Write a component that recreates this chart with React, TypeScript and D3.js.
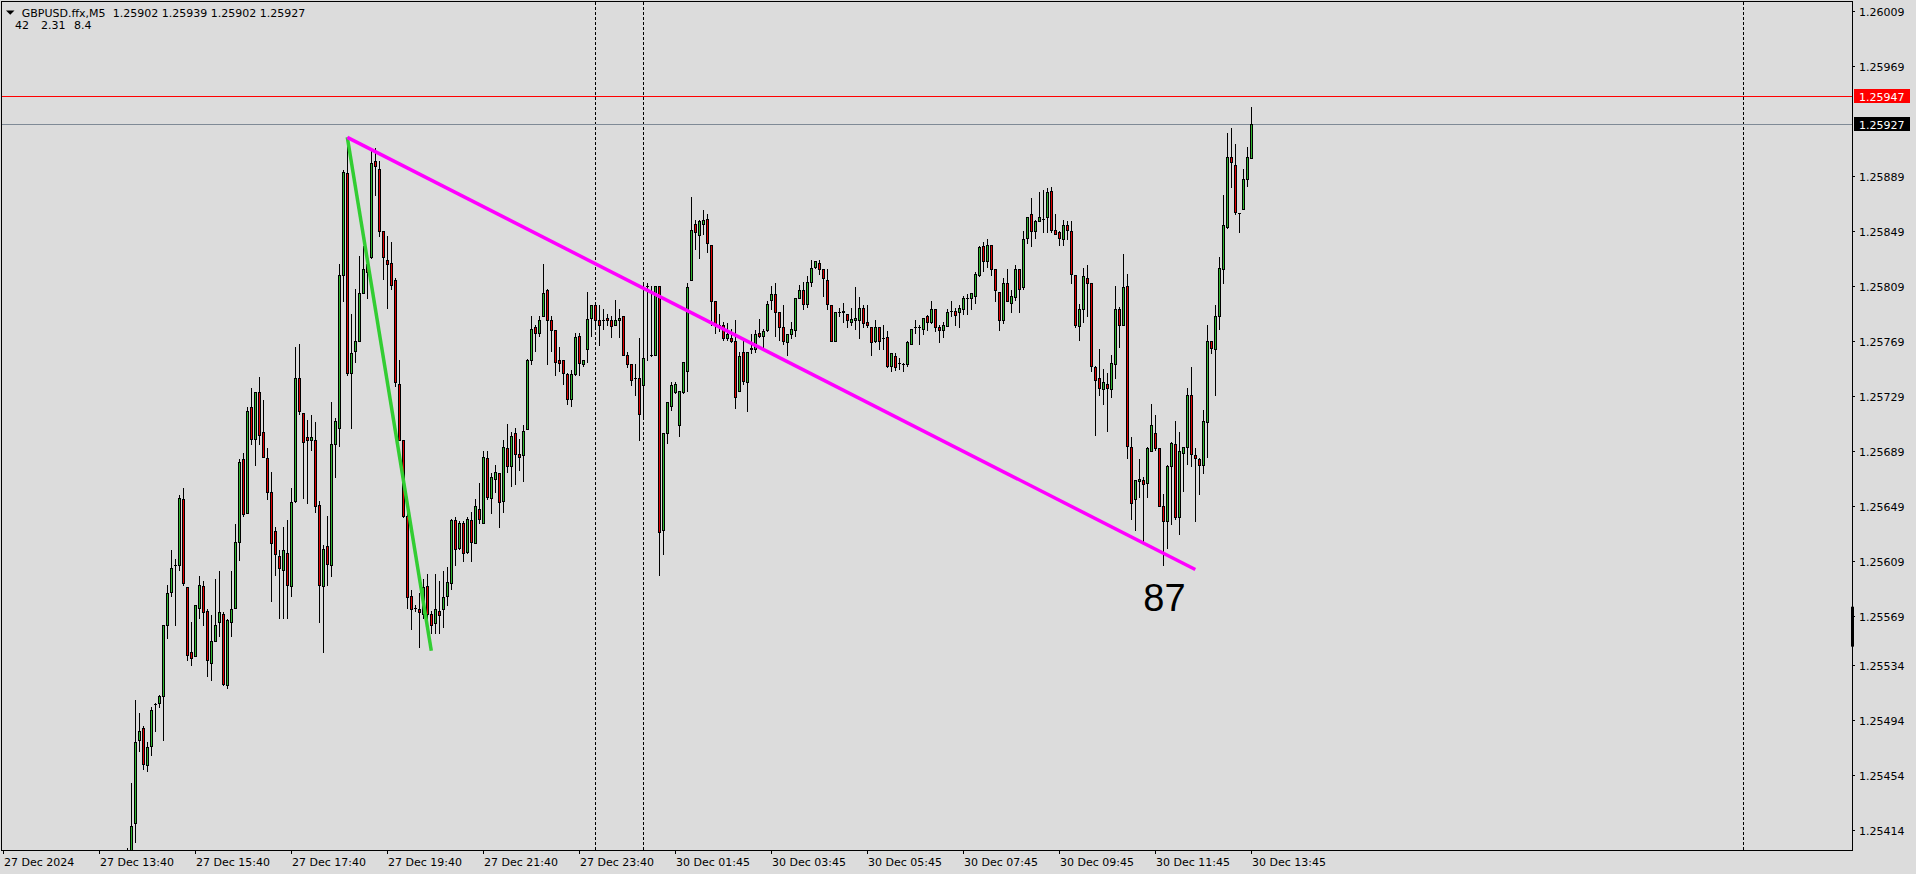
import * as d3 from "d3";
import { useEffect } from "react";

// GBPUSD.ffx M5, bars numbered 1..282 (27 Dec 14:15 -> 30 Dec 13:45)
const opens = [
  1.25395, 1.25386, 1.25419, 1.25479, 1.25488, 1.25461, 1.25475, 1.25505, 1.25506, 1.25511,
  1.25563, 1.25587, 1.25606, 1.25606, 1.25654, 1.2559, 1.25543, 1.2554, 1.25575, 1.25591,
  1.25573, 1.25535, 1.25551, 1.25565, 1.25571, 1.25519, 1.25565, 1.25575, 1.25623, 1.25683,
  1.25644, 1.25721, 1.25698, 1.25732, 1.25703, 1.25684, 1.25659, 1.25631, 1.25613, 1.25603,
  1.25615, 1.25591, 1.25653, 1.25742, 1.25717, 1.25699, 1.25697, 1.25697, 1.2565, 1.25591,
  1.2562, 1.25606, 1.25694, 1.25706, 1.25817, 1.25891, 1.25746, 1.25762, 1.25769, 1.25804,
  1.25825, 1.2583, 1.259, 1.25894, 1.25849, 1.25828, 1.25826, 1.25813, 1.25738, 1.25697,
  1.25642, 1.25584, 1.25575, 1.25574, 1.25571, 1.25591, 1.25571, 1.25564, 1.25573, 1.25574,
  1.25584, 1.25593, 1.25639, 1.25619, 1.25637, 1.25616, 1.25639, 1.25622, 1.25647, 1.25637,
  1.25684, 1.25655, 1.25669, 1.25673, 1.25653, 1.25691, 1.25678, 1.25702, 1.25687, 1.25686,
  1.25705, 1.25755, 1.25779, 1.25775, 1.25787, 1.25806, 1.25784, 1.25777, 1.25755, 1.25755,
  1.25745, 1.25727, 1.25745, 1.25773, 1.25752, 1.25763, 1.25786, 1.25795, 1.25784, 1.25784,
  1.25786, 1.25784, 1.25781, 1.25784, 1.25787, 1.25759, 1.25752, 1.25742, 1.25742, 1.25737,
  1.25809, 1.25759, 1.25759, 1.25809, 1.25632, 1.25702, 1.25722, 1.25732, 1.25708, 1.25732,
  1.25747, 1.25813, 1.25854, 1.25846, 1.25854, 1.25858, 1.25839, 1.25798, 1.25781, 1.25781,
  1.25771, 1.25771, 1.25769, 1.25733, 1.25761, 1.25739, 1.25763, 1.25763, 1.25775, 1.25773,
  1.25777, 1.25799, 1.25803, 1.2579, 1.25779, 1.25768, 1.25774, 1.25777, 1.258, 1.25806,
  1.25796, 1.25812, 1.25823, 1.25826, 1.25821, 1.25813, 1.25795, 1.25769, 1.2579, 1.25791,
  1.25789, 1.25783, 1.25784, 1.25784, 1.25793, 1.25783, 1.25779, 1.25769, 1.25779, 1.25771,
  1.25772, 1.25751, 1.25758, 1.25753, 1.25752, 1.25752, 1.25767, 1.25779, 1.25779, 1.25778,
  1.25787, 1.25783, 1.25792, 1.25779, 1.25777, 1.2578, 1.25791, 1.25791, 1.2579, 1.25792,
  1.258, 1.258, 1.25802, 1.25817, 1.25838, 1.25827, 1.25839, 1.25821, 1.25805, 1.25784,
  1.25811, 1.25797, 1.25801, 1.25821, 1.25808, 1.25844, 1.25861, 1.25849, 1.25856, 1.25858,
  1.25859, 1.25878, 1.2585, 1.25848, 1.25843, 1.25853, 1.25849, 1.25817, 1.2578, 1.25792,
  1.25815, 1.25811, 1.2575, 1.25742, 1.25734, 1.25738, 1.25734, 1.25752, 1.25792, 1.25781,
  1.25809, 1.25692, 1.25654, 1.25667, 1.25668, 1.25666, 1.25689, 1.25702, 1.25691, 1.25649,
  1.25638, 1.25678, 1.25694, 1.25641, 1.25688, 1.25692, 1.2573, 1.25686, 1.25683, 1.25679,
  1.2571, 1.25769, 1.25763, 1.25787, 1.25821, 1.25852, 1.25903, 1.25897, 1.25862, 1.25865,
  1.25887, 1.25902,
];

const highs = [
  1.25401, 1.25448, 1.25508, 1.25499, 1.25489, 1.25478, 1.25503, 1.25506, 1.25512, 1.25563,
  1.25592, 1.25617, 1.25611, 1.25657, 1.25662, 1.2559, 1.25565, 1.25577, 1.25598, 1.25595,
  1.25574, 1.2557, 1.25596, 1.25602, 1.25572, 1.25567, 1.25602, 1.25636, 1.25683, 1.25688,
  1.25721, 1.25735, 1.25732, 1.25743, 1.25726, 1.25691, 1.25674, 1.25634, 1.25617, 1.25634,
  1.25639, 1.25662, 1.25765, 1.25767, 1.25717, 1.25712, 1.25715, 1.2571, 1.25653, 1.25621,
  1.25642, 1.25725, 1.25713, 1.25825, 1.25893, 1.25916, 1.25789, 1.25807, 1.25831, 1.25838,
  1.25826, 1.25908, 1.25909, 1.259, 1.25849, 1.25845, 1.25841, 1.25815, 1.25755, 1.25697,
  1.25644, 1.25588, 1.25577, 1.25586, 1.25596, 1.256, 1.25573, 1.256, 1.25595, 1.25602,
  1.25605, 1.2564, 1.25641, 1.25638, 1.25638, 1.25641, 1.25645, 1.25654, 1.25666, 1.25689,
  1.25689, 1.25673, 1.25679, 1.25673, 1.25697, 1.25709, 1.25703, 1.25706, 1.25698, 1.25708,
  1.25756, 1.25787, 1.25781, 1.25787, 1.25825, 1.25807, 1.25787, 1.25777, 1.25765, 1.25755,
  1.25746, 1.25748, 1.25775, 1.25775, 1.25755, 1.25805, 1.25795, 1.25795, 1.25795, 1.25792,
  1.25789, 1.25787, 1.25799, 1.25792, 1.25787, 1.25761, 1.25752, 1.25752, 1.25771, 1.25811,
  1.25811, 1.25809, 1.25809, 1.25809, 1.25702, 1.25725, 1.25739, 1.25739, 1.25733, 1.25754,
  1.25811, 1.25874, 1.25857, 1.25857, 1.25864, 1.25861, 1.25839, 1.25798, 1.25789, 1.25783,
  1.25782, 1.25778, 1.25784, 1.25761, 1.25769, 1.25761, 1.25774, 1.25777, 1.25785, 1.25778,
  1.25798, 1.25809, 1.25811, 1.2579, 1.25795, 1.25774, 1.25783, 1.258, 1.2581, 1.25812,
  1.25816, 1.25828, 1.25827, 1.25828, 1.25821, 1.25821, 1.25795, 1.2579, 1.25793, 1.25797,
  1.25789, 1.25793, 1.25808, 1.25801, 1.25795, 1.25795, 1.25779, 1.25784, 1.25779, 1.25781,
  1.25776, 1.2576, 1.2576, 1.25757, 1.25753, 1.25769, 1.25778, 1.25784, 1.25781, 1.25786,
  1.25788, 1.25798, 1.25792, 1.25781, 1.25783, 1.25792, 1.25798, 1.25793, 1.25795, 1.25802,
  1.25803, 1.25804, 1.25819, 1.25838, 1.25841, 1.25843, 1.25839, 1.25821, 1.25805, 1.25815,
  1.25821, 1.25806, 1.25824, 1.25821, 1.25849, 1.25859, 1.25873, 1.25857, 1.25877, 1.25879,
  1.2588, 1.25881, 1.25861, 1.25849, 1.25857, 1.25856, 1.25856, 1.25817, 1.25796, 1.25822,
  1.25824, 1.25811, 1.25751, 1.25763, 1.25749, 1.25746, 1.25759, 1.25809, 1.25794, 1.25832,
  1.25818, 1.25699, 1.25668, 1.25683, 1.2567, 1.25692, 1.25723, 1.25715, 1.25691, 1.25658,
  1.25679, 1.25696, 1.25711, 1.25703, 1.25692, 1.25735, 1.2575, 1.25691, 1.25684, 1.25719,
  1.25781, 1.25769, 1.25795, 1.2583, 1.25875, 1.2592, 1.25924, 1.25912, 1.25862, 1.25894,
  1.2591, 1.25939,
];

const lows = [
  1.25382, 1.2538, 1.25405, 1.25471, 1.25458, 1.25457, 1.25468, 1.25486, 1.25503, 1.25479,
  1.25553, 1.25584, 1.25563, 1.25603, 1.25592, 1.25537, 1.25534, 1.2554, 1.25568, 1.25563,
  1.25526, 1.25523, 1.25551, 1.25555, 1.25519, 1.25517, 1.25555, 1.25575, 1.2561, 1.25642,
  1.25644, 1.25694, 1.25679, 1.25694, 1.25685, 1.25654, 1.2558, 1.25599, 1.25568, 1.25568,
  1.25568, 1.25584, 1.25652, 1.25716, 1.25655, 1.25651, 1.2569, 1.25645, 1.25565, 1.25543,
  1.25592, 1.25598, 1.2567, 1.25693, 1.25798, 1.25744, 1.25706, 1.25754, 1.25769, 1.25804,
  1.258, 1.25829, 1.25875, 1.25845, 1.25814, 1.25793, 1.25807, 1.25736, 1.25697, 1.25641,
  1.25575, 1.2556, 1.25573, 1.25547, 1.25568, 1.2556, 1.25557, 1.25557, 1.25557, 1.25561,
  1.25577, 1.25589, 1.25606, 1.25618, 1.25609, 1.25615, 1.25609, 1.25622, 1.25637, 1.25637,
  1.25654, 1.25644, 1.25659, 1.25634, 1.25645, 1.25674, 1.25664, 1.25665, 1.25675, 1.25667,
  1.25705, 1.25752, 1.25762, 1.25773, 1.25787, 1.25752, 1.25762, 1.25744, 1.25747, 1.25738,
  1.25723, 1.25722, 1.25744, 1.25744, 1.25751, 1.25754, 1.25773, 1.25778, 1.25766, 1.25778,
  1.25781, 1.25772, 1.25781, 1.25772, 1.25759, 1.2575, 1.25737, 1.2573, 1.25697, 1.25713,
  1.25755, 1.25758, 1.25759, 1.25599, 1.25614, 1.25695, 1.25719, 1.25731, 1.257, 1.25731,
  1.25733, 1.25813, 1.25836, 1.25829, 1.25847, 1.25834, 1.25781, 1.25775, 1.25776, 1.2577,
  1.2577, 1.25768, 1.2572, 1.25733, 1.25738, 1.25718, 1.2576, 1.25761, 1.25772, 1.25765,
  1.25776, 1.25792, 1.25773, 1.2577, 1.25767, 1.25759, 1.25771, 1.25773, 1.258, 1.25792,
  1.25794, 1.25809, 1.25822, 1.25818, 1.25802, 1.25792, 1.25769, 1.25769, 1.25787, 1.25783,
  1.25779, 1.25781, 1.25778, 1.25771, 1.25779, 1.25779, 1.25759, 1.25768, 1.25763, 1.25763,
  1.2575, 1.25747, 1.25748, 1.25749, 1.25747, 1.25751, 1.25767, 1.25775, 1.25767, 1.25774,
  1.25777, 1.25782, 1.25776, 1.25768, 1.25772, 1.2578, 1.25787, 1.25781, 1.25779, 1.25789,
  1.25789, 1.25792, 1.25797, 1.25816, 1.2582, 1.25823, 1.25817, 1.25798, 1.25777, 1.25782,
  1.25798, 1.2579, 1.25799, 1.2579, 1.25807, 1.2584, 1.25838, 1.25844, 1.25856, 1.25848,
  1.25848, 1.25848, 1.25847, 1.25839, 1.25839, 1.25843, 1.25811, 1.25779, 1.2577, 1.25783,
  1.25787, 1.25747, 1.25701, 1.2573, 1.25723, 1.25704, 1.25728, 1.25742, 1.25765, 1.25781,
  1.25684, 1.2564, 1.25632, 1.25656, 1.25623, 1.25656, 1.25689, 1.2569, 1.25649, 1.25606,
  1.25619, 1.25636, 1.2564, 1.25629, 1.2566, 1.2568, 1.25678, 1.25638, 1.25658, 1.25673,
  1.25685, 1.2576, 1.2573, 1.25778, 1.25811, 1.25851, 1.25881, 1.25861, 1.25848, 1.25865,
  1.25882, 1.25902,
];

const closes = [
  1.25386, 1.25417, 1.25478, 1.25486, 1.25462, 1.25474, 1.25501, 1.25505, 1.25511, 1.25563,
  1.25586, 1.25604, 1.25606, 1.25655, 1.25593, 1.25541, 1.25539, 1.25577, 1.25592, 1.25572,
  1.25537, 1.25551, 1.25563, 1.25572, 1.2552, 1.25566, 1.25574, 1.25623, 1.25681, 1.25643,
  1.25718, 1.25698, 1.25732, 1.25701, 1.25685, 1.25659, 1.25622, 1.25614, 1.25604, 1.25617,
  1.25592, 1.25652, 1.25742, 1.25718, 1.25696, 1.25697, 1.25699, 1.25649, 1.25592, 1.25618,
  1.25607, 1.25694, 1.25711, 1.25817, 1.25892, 1.25746, 1.2576, 1.25769, 1.25804, 1.25821,
  1.25819, 1.25898, 1.25896, 1.25849, 1.2583, 1.25825, 1.2581, 1.25739, 1.25697, 1.25642,
  1.25583, 1.25574, 1.25575, 1.25572, 1.2559, 1.25571, 1.25563, 1.25574, 1.2557, 1.25583,
  1.25594, 1.25639, 1.25618, 1.25637, 1.25615, 1.2564, 1.25623, 1.25649, 1.2564, 1.25685,
  1.25656, 1.2567, 1.25674, 1.25652, 1.25692, 1.25678, 1.257, 1.25687, 1.25685, 1.25704,
  1.25755, 1.25778, 1.25775, 1.25784, 1.25804, 1.25784, 1.25777, 1.25754, 1.25753, 1.25746,
  1.25727, 1.25745, 1.25772, 1.25753, 1.25755, 1.25785, 1.25795, 1.25784, 1.25781, 1.25784,
  1.25784, 1.2578, 1.25784, 1.25786, 1.25759, 1.25752, 1.25741, 1.25742, 1.25716, 1.25757,
  1.25809, 1.25759, 1.25809, 1.2563, 1.25702, 1.25725, 1.25737, 1.25738, 1.25733, 1.25754,
  1.25808, 1.2585, 1.25848, 1.25856, 1.25857, 1.2584, 1.25798, 1.25781, 1.25781, 1.25771,
  1.25774, 1.25769, 1.25728, 1.25758, 1.2574, 1.25761, 1.25764, 1.25774, 1.25773, 1.25776,
  1.25796, 1.25803, 1.2579, 1.25779, 1.25769, 1.25774, 1.25778, 1.258, 1.25806, 1.25796,
  1.25812, 1.25822, 1.25827, 1.25821, 1.25815, 1.25796, 1.25769, 1.2579, 1.2579, 1.2579,
  1.25784, 1.25785, 1.25786, 1.25793, 1.25782, 1.25781, 1.25768, 1.25779, 1.25769, 1.25771,
  1.25751, 1.2576, 1.2575, 1.25753, 1.25752, 1.25768, 1.25778, 1.25779, 1.25779, 1.25786,
  1.25783, 1.25792, 1.25779, 1.25777, 1.25781, 1.2579, 1.25791, 1.25788, 1.25793, 1.258,
  1.258, 1.25804, 1.25818, 1.25837, 1.25827, 1.25839, 1.25821, 1.25806, 1.25784, 1.25811,
  1.25798, 1.25802, 1.25821, 1.25807, 1.25843, 1.25859, 1.25849, 1.25856, 1.25859, 1.25858,
  1.25877, 1.2585, 1.25847, 1.25844, 1.25853, 1.2585, 1.25818, 1.25781, 1.25792, 1.25816,
  1.25811, 1.25751, 1.25741, 1.25735, 1.25739, 1.25735, 1.25753, 1.25792, 1.25781, 1.25808,
  1.25693, 1.25651, 1.25668, 1.25669, 1.25665, 1.25691, 1.25708, 1.25691, 1.25649, 1.25638,
  1.25678, 1.25695, 1.25641, 1.25689, 1.25692, 1.2573, 1.25687, 1.25684, 1.25679, 1.25711,
  1.25769, 1.25764, 1.25787, 1.25822, 1.25853, 1.25903, 1.25899, 1.25863, 1.25862, 1.25887,
  1.25903, 1.25927,
];

const priceTicks = [
  1.26009, 1.25969, 1.25889, 1.25849, 1.25809, 1.25769, 1.25729, 1.25689,
  1.25649, 1.25609, 1.25569, 1.25534, 1.25494, 1.25454, 1.25414,
];

const timeLabels = [
  "27 Dec 2024", "27 Dec 13:40", "27 Dec 15:40", "27 Dec 17:40", "27 Dec 19:40",
  "27 Dec 21:40", "27 Dec 23:40", "30 Dec 01:45", "30 Dec 03:45", "30 Dec 05:45",
  "30 Dec 07:45", "30 Dec 09:45", "30 Dec 11:45", "30 Dec 13:45",
];
const timeLabelBars = [-30, -6, 18, 42, 66, 90, 114, 138, 162, 186, 210, 234, 258, 282];

const separatorBars = [118, 130, 405];

const askPrice = 1.25947;
const bidPrice = 1.25927;
const axisMarker = [1.25547, 1.25576];

const symbolTitle = "GBPUSD.ffx,M5";
const lastQuote = ["1.25902", "1.25939", "1.25902", "1.25927"];
const infoValues = ["42", "2.31", "8.4"];

const magentaBars = [56, 268];
const magentaPrices = [1.25917, 1.25603];
const greenBars = [56, 77];
const greenPrices = [1.25917, 1.25544];

const noteText = "87";
const noteBar = 255;
const notePrice = 1.25573;

const W = 1916;
const H = 874;
const right = 1852;
const bottom = 850;
const bg = "#dcdcdc";
const bull = "#2fb52f";
const bear = "#e00000";
const font = "'DejaVu Sans', Tahoma, sans-serif";

const x = d3.scaleLinear().domain([-30, 282]).range([3.3, 1251.3]);
const y = d3.scaleLinear().domain([1.25414, 1.26009]).range([829.7, 10.7]);

const App = () => {
  useEffect(() => {
    document.body.style.margin = "0";
    document.body.style.background = bg;
  }, []);

  const candles = opens.map((o, i) => {
    const c = closes[i];
    const hi = Math.max(highs[i], o, c);
    const lo = Math.min(lows[i], o, c);
    return { bar: i + 1, o, h: hi, l: lo, c };
  });

  const line = d3
    .line<[number, number]>()
    .x((d) => x(d[0]))
    .y((d) => y(d[1]));

  return (
    <svg width={W} height={H} style={{ display: "block" }} fontFamily={font}>
      <defs>
        <clipPath id="plot">
          <rect x={2} y={2} width={right - 2} height={bottom - 2} />
        </clipPath>
      </defs>
      <rect x={0} y={0} width={W} height={H} fill={bg} />

      <g clipPath="url(#plot)">
        {separatorBars.map((b) => (
          <line
            key={b}
            x1={Math.round(x(b)) + 0.5}
            x2={Math.round(x(b)) + 0.5}
            y1={2}
            y2={bottom}
            stroke="#000"
            strokeDasharray="3,2"
          />
        ))}
        <line x1={2} x2={right} y1={Math.round(y(askPrice)) + 0.5} y2={Math.round(y(askPrice)) + 0.5} stroke="#ff0000" />
        <line x1={2} x2={right} y1={Math.round(y(bidPrice)) + 0.5} y2={Math.round(y(bidPrice)) + 0.5} stroke="#7f8a96" />

        {candles.map((d) => {
          const cx = Math.round(x(d.bar));
          const top = Math.round(y(Math.max(d.o, d.c)));
          const bot = Math.round(y(Math.min(d.o, d.c)));
          return (
            <g key={d.bar} shapeRendering="crispEdges">
              <line x1={cx + 0.5} x2={cx + 0.5} y1={Math.round(y(d.h))} y2={Math.round(y(d.l)) + 1} stroke="#000" />
              {bot - top >= 1 ? (
                <rect
                  x={cx - 0.5}
                  y={top + 0.5}
                  width={2}
                  height={bot - top}
                  fill={d.c >= d.o ? bull : bear}
                  stroke="#000"
                />
              ) : (
                <line x1={cx - 1} x2={cx + 2} y1={top + 0.5} y2={top + 0.5} stroke="#000" />
              )}
            </g>
          );
        })}

        <path
          d={line([[greenBars[0], greenPrices[0]], [greenBars[1], greenPrices[1]]]) ?? ""}
          stroke="#32cd32"
          strokeWidth={3.5}
          fill="none"
        />
        <path
          d={line([[magentaBars[0], magentaPrices[0]], [magentaBars[1], magentaPrices[1]]]) ?? ""}
          stroke="#ff00ff"
          strokeWidth={3.5}
          fill="none"
        />
        <text x={x(noteBar)} y={y(notePrice)} fontSize={38} fontFamily="'Liberation Sans', Arial, sans-serif" fill="#000">
          {noteText}
        </text>
      </g>

      {/* frame */}
      <rect x={1.5} y={1.5} width={right - 1} height={bottom - 1} fill="none" stroke="#000" shapeRendering="crispEdges" />

      {/* header */}
      <polygon points="6,10.5 14.5,10.5 10.25,14.8" fill="#000" />
      <text x={21.7} y={17} fontSize={11} fill="#000">{symbolTitle}</text>
      <text x={112.7} y={17} fontSize={11} fill="#000">{lastQuote.join(" ")}</text>
      {infoValues.map((v, i) => (
        <text key={v} x={[15, 41, 74][i]} y={29} fontSize={11} fill="#000">{v}</text>
      ))}

      {/* price axis */}
      {priceTicks.map((p) => {
        const py = Math.round(y(p));
        return (
          <g key={p}>
            <line x1={right} x2={right + 3} y1={py + 0.5} y2={py + 0.5} stroke="#000" shapeRendering="crispEdges" />
            <text x={1859} y={py + 4.5} fontSize={11} fill="#000">{p.toFixed(5)}</text>
          </g>
        );
      })}
      <rect
        x={right - 1}
        y={y(axisMarker[1])}
        width={3}
        height={y(axisMarker[0]) - y(axisMarker[1])}
        fill="#000"
      />
      {[
        { p: askPrice, c: "#ff0000" },
        { p: bidPrice, c: "#000000" },
      ].map(({ p, c }) => {
        const py = Math.round(y(p));
        return (
          <g key={p}>
            <rect x={1854} y={py - 7} width={56} height={14} fill={c} />
            <text x={1859} y={py + 4.5} fontSize={11} fill="#fff">{p.toFixed(5)}</text>
          </g>
        );
      })}

      {/* time axis */}
      {timeLabels.map((t, i) => {
        const tx = Math.round(x(timeLabelBars[i]));
        return (
          <g key={t}>
            <line x1={tx + 0.5} x2={tx + 0.5} y1={bottom} y2={bottom + 4} stroke="#000" shapeRendering="crispEdges" />
            <text x={tx + 1} y={866} fontSize={11} fill="#000">{t}</text>
          </g>
        );
      })}
    </svg>
  );
};

export default App;
